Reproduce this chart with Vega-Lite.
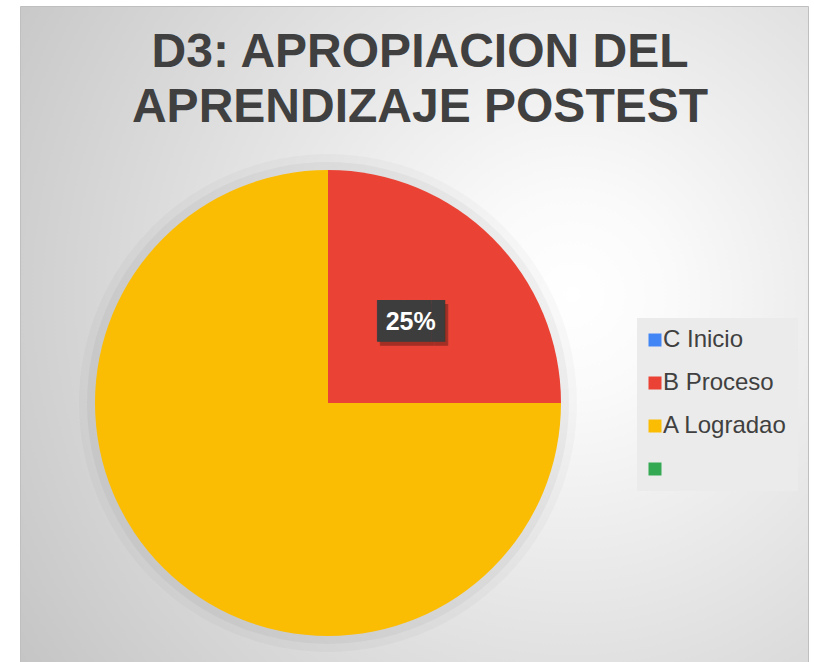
{
  "$schema": "https://vega.github.io/schema/vega-lite/v6.json",
  "width": 788,
  "height": 656,
  "autosize": "none",
  "padding": {"left": 20, "top": 6, "right": 6, "bottom": 0},
  "background": "white",
  "view": {
    "stroke": "#bfbfbf",
    "strokeWidth": 1,
    "fill": {
      "gradient": "radial",
      "x1": 0.7, "y1": 0.45, "r1": 0,
      "x2": 0.7, "y2": 0.45, "r2": 0.85,
      "stops": [
        {"offset": 0, "color": "#ffffff"},
        {"offset": 0.15, "color": "#fafafa"},
        {"offset": 1, "color": "#c4c4c4"}
      ]
    }
  },
  "config": {
    "font": "Liberation Sans"
  },
  "title": {
    "text": ["D3: APROPIACION DEL", "APRENDIZAJE POSTEST"],
    "fontSize": 48,
    "fontWeight": "bold",
    "font": "Liberation Sans",
    "color": "#404040",
    "lineHeight": 55,
    "anchor": "middle",
    "frame": "group",
    "offset": -126,
    "dx": 6
  },
  "data": {
    "values": [
      {"cat": "C Inicio", "value": 0, "label": "", "order": 1},
      {"cat": "B Proceso", "value": 25, "label": "25%", "order": 2},
      {"cat": "A Logradao", "value": 75, "label": "", "order": 3},
      {"cat": " ", "value": 0, "label": "", "order": 4}
    ]
  },
  "encoding": {
    "theta": {"field": "value", "type": "quantitative", "stack": true},
    "order": {"field": "order", "type": "quantitative"}
  },
  "layer": [
    {
      "mark": {"type": "arc", "x": 308, "y": 397, "outerRadius": 249, "color": "#000000", "opacity": 0.025, "strokeWidth": 0}
    },
    {
      "mark": {"type": "arc", "x": 308, "y": 397, "outerRadius": 241, "color": "#000000", "opacity": 0.035, "strokeWidth": 0}
    },
    {
      "mark": {"type": "arc", "x": 308, "y": 397, "outerRadius": 233, "strokeWidth": 0},
      "encoding": {
        "color": {
          "field": "cat",
          "type": "nominal",
          "scale": {
            "domain": ["C Inicio", "B Proceso", "A Logradao", " "],
            "range": ["#4285F4", "#EA4335", "#FBBC04", "#34A853"]
          },
          "legend": {
            "title": null,
            "orient": "none",
            "legendX": 617,
            "legendY": 312,
            "fillColor": "#ebebeb",
            "padding": 10,
            "symbolType": "square",
            "symbolSize": 169,
            "symbolStrokeWidth": 0,
            "symbolOffset": -4,
            "labelFontSize": 24,
            "labelColor": "#404040",
            "labelFont": "Liberation Sans",
            "labelOffset": -4,
            "rowPadding": 19,
            "labelLimit": 300
          }
        }
      }
    },
    {
      "mark": {"type": "text", "x": 308, "y": 397, "radius": 117, "font": "DejaVu Sans", "fontSize": 35, "color": "#000000", "opacity": 0.3, "dx": 10, "dy": 6, "baseline": "middle", "align": "center"},
      "encoding": {
        "text": {"condition": {"test": "datum.label != ''", "value": "██▌"}, "value": ""}
      }
    },
    {
      "mark": {"type": "text", "x": 308, "y": 397, "radius": 117, "font": "DejaVu Sans", "fontSize": 35, "color": "#3d3d3d", "dx": 7, "dy": 2, "baseline": "middle", "align": "center"},
      "encoding": {
        "text": {"condition": {"test": "datum.label != ''", "value": "██▌"}, "value": ""}
      }
    },
    {
      "mark": {"type": "text", "x": 308, "y": 397, "radius": 117, "font": "Liberation Sans", "fontSize": 25, "fontWeight": "bold", "color": "#ffffff", "baseline": "middle", "align": "center", "dy": 2},
      "encoding": {
        "text": {"field": "label"}
      }
    }
  ]
}
